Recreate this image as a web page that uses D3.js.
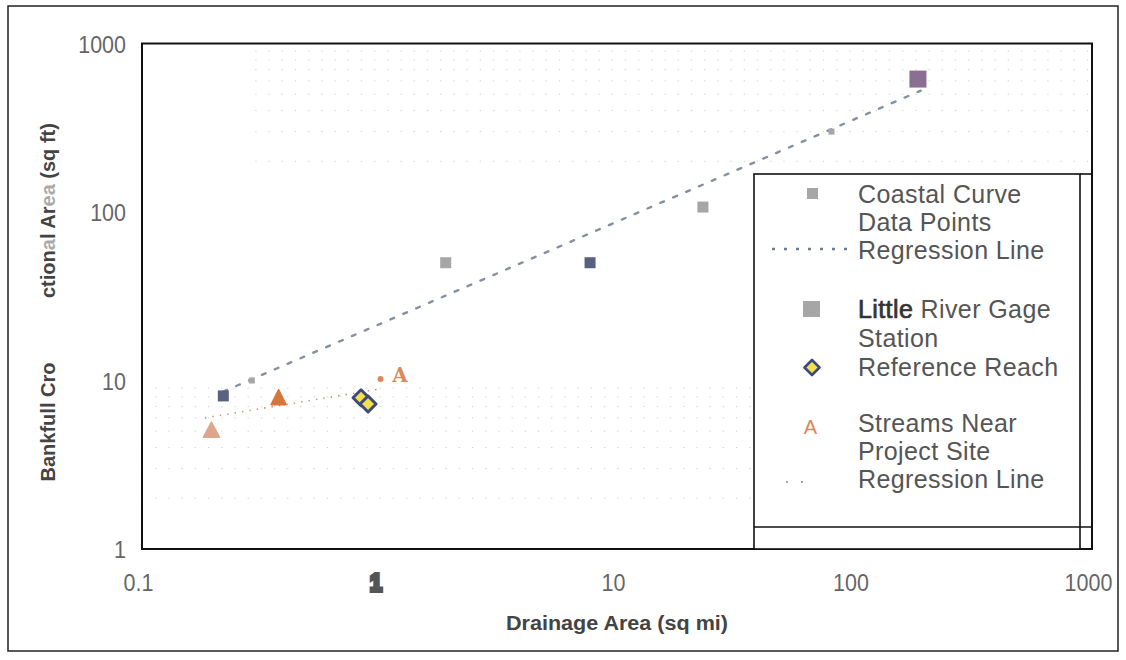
<!DOCTYPE html>
<html>
<head>
<meta charset="utf-8">
<script src="https://cdn.jsdelivr.net/npm/d3@7"></script>
<style>
  html, body { margin: 0; padding: 0; background: #fff; }
  svg { display: block; font-family: "Liberation Sans", Arial, sans-serif; }
</style>
</head>
<body>
<svg id="chart" width="1126" height="660"></svg>
<script>
// ---------------- DATA ----------------
const xTickValues = [0.1, 1, 10, 100, 1000];
const xTickLabels = ["0.1", "1", "10", "100", "1000"];
const yTickValues = [1, 10, 100, 1000];
const yTickLabels = ["1", "10", "100", "1000"];

// Coastal curve data points (grey squares)
const coastalPoints = [
  { x: 1.9, y: 50 },
  { x: 23, y: 107 }
];
const coastalSmallPoints = [
  { x: 0.29, y: 10 },
  { x: 80, y: 300 }
];
// Coastal points printed in dark blue
const coastalBluePoints = [
  { x: 0.22, y: 8.1 },
  { x: 7.7, y: 50 }
];
// Coastal curve regression line (end points)
const coastalRegression = [
  { x: 0.22, y: 8.6 },
  { x: 190, y: 525 }
];
// Little River gage station
const gagePoints = [{ x: 185, y: 615 }];
// Reference reach
const referencePoints = [
  { x: 0.836, y: 7.9 },
  { x: 0.895, y: 7.25 }
];
// Streams near project site
const streamsLightTriangles = [{ x: 0.196, y: 5.0 }];
const streamsTriangles = [{ x: 0.376, y: 7.8 }];
const streamsLetters = [{ x: 1.22, y: 10.9 }];
const streamsDots = [{ x: 1.01, y: 10.2 }];
// Project site regression line (end points)
const projectRegression = [
  { x: 0.184, y: 6.0 },
  { x: 1.0, y: 8.9 }
];
// faint minor grid rows
const minorGridLow = [2, 3, 4, 5, 6, 7, 8, 9];
const minorGridHigh = [200, 300, 400, 500, 600, 700, 800, 900];

const legendRows = [
  { lines: ["Coastal Curve", "Data Points", "Regression Line"] },
  { lines: ["Little River Gage", "Station", "Reference Reach"] },
  { lines: ["Streams Near", "Project Site", "Regression Line"] }
];

// ---------------- LAYOUT ----------------
const plot = { left: 142, top: 43.5, right: 1092, bottom: 549 };

const svg = d3.select("#chart");

const x = d3.scaleLog().domain([0.1, 1000]).range([plot.left, plot.right]);
const y = d3.scaleLog().domain([1, 1000]).range([plot.bottom, plot.top]);

// outer frame
svg.append("rect")
  .attr("x", 8).attr("y", 6).attr("width", 1110).attr("height", 645)
  .attr("fill", "#fff").attr("stroke", "#222").attr("stroke-width", 1.5);

// faint dotted minor grid
const gridG = svg.append("g");
gridG.selectAll("line.low").data(minorGridLow).join("line")
  .attr("class", "low")
  .attr("x1", x(0.1)).attr("x2", x(1000))
  .attr("y1", d => y(d)).attr("y2", d => y(d))
  .attr("stroke", "#cfcfcf").attr("stroke-width", 1)
  .attr("stroke-dasharray", "1.2,12");
gridG.selectAll("line.high").data(minorGridHigh).join("line")
  .attr("class", "high")
  .attr("x1", x(0.3)).attr("x2", x(1000))
  .attr("y1", d => y(d)).attr("y2", d => y(d))
  .attr("stroke", "#cfcfcf").attr("stroke-width", 1)
  .attr("stroke-dasharray", "1.2,12");

// axes (labels only)
const xAxis = svg.append("g")
  .attr("transform", `translate(0,${plot.bottom})`)
  .call(d3.axisBottom(x).tickValues(xTickValues).tickSize(0)
    .tickFormat((d, i) => xTickLabels[i]));
xAxis.select(".domain").remove();
xAxis.selectAll("text")
  .attr("x", -4).attr("y", 42 / 1.15).attr("dy", null)
  .attr("transform", "scale(1,1.15)")
  .attr("font-family", "'Liberation Sans', Arial, sans-serif")
  .attr("font-size", 21.5).attr("fill", "#666")
  .filter((d) => d === 1)
  .attr("font-weight", "900").attr("fill", "#555")
  .attr("stroke", "#555").attr("stroke-width", 3.5);

const yAxis = svg.append("g")
  .attr("transform", `translate(${plot.left},0)`)
  .call(d3.axisLeft(y).tickValues(yTickValues).tickSize(0)
    .tickFormat((d, i) => yTickLabels[i]));
yAxis.select(".domain").remove();
yAxis.selectAll("text")
  .attr("x", -16).attr("y", 7.7).attr("dy", null)
  .attr("transform", "scale(1,1.15)")
  .attr("font-family", "'Liberation Sans', Arial, sans-serif")
  .attr("font-size", 21.5).attr("fill", "#666");

// axis titles
svg.append("text")
  .attr("x", (plot.left + plot.right) / 2).attr("y", 630)
  .attr("text-anchor", "middle")
  .attr("font-size", 20).attr("font-weight", "bold").attr("fill", "#444")
  .attr("textLength", 222).attr("lengthAdjust", "spacingAndGlyphs")
  .text("Drainage Area (sq mi)");

svg.append("text")
  .attr("transform", "translate(55,422) rotate(-90)")
  .attr("text-anchor", "middle")
  .attr("font-size", 20).attr("font-weight", "bold").attr("fill", "#444")
  .text("Bankfull Cro");

const yt2 = svg.append("text")
  .attr("transform", "translate(55,298) rotate(-90)")
  .attr("text-anchor", "start")
  .attr("font-size", 20).attr("font-weight", "bold").attr("fill", "#444");
[["ction", "#444"], ["a", "#aaa"], ["l Ar", "#444"], ["ea", "#aaa"], [" (sq ft)", "#444"]]
  .forEach(([t, c]) => yt2.append("tspan").attr("fill", c).text(t));

// regression lines
const line = d3.line().x(d => x(d.x)).y(d => y(d.y));
svg.append("path").datum(coastalRegression)
  .attr("d", line).attr("fill", "none")
  .attr("stroke", "#868fa2").attr("stroke-width", 2.4)
  .attr("stroke-dasharray", "4,10").attr("stroke-linecap", "round");
svg.append("path").datum(projectRegression)
  .attr("d", line).attr("fill", "none")
  .attr("stroke", "#c09a85").attr("stroke-width", 1.6)
  .attr("stroke-dasharray", "1.5,6");

// squares
function squares(data, size, color) {
  svg.append("g").selectAll("rect").data(data).join("rect")
    .attr("x", d => x(d.x) - size / 2).attr("y", d => y(d.y) - size / 2)
    .attr("width", size).attr("height", size).attr("fill", color);
}
squares(coastalPoints, 11, "#a6a6a6");
squares(coastalSmallPoints, 6, "#a6a6a6");
squares(coastalBluePoints, 11, "#56627f");
squares(gagePoints, 17, "#8a6f92");

// triangles
function triangles(data, w, h, color) {
  svg.append("g").selectAll("path").data(data).join("path")
    .attr("d", d => {
      const cx = x(d.x), cy = y(d.y);
      return `M${cx},${cy - h * 0.6}L${cx + w / 2},${cy + h * 0.4}L${cx - w / 2},${cy + h * 0.4}Z`;
    })
    .attr("fill", color).attr("stroke", color).attr("stroke-width", 1.5)
    .attr("stroke-linejoin", "round");
}
triangles(streamsLightTriangles, 16, 15, "#dca68b");
triangles(streamsTriangles, 15, 15, "#d5763c");

// reference reach diamonds
svg.append("g").selectAll("path").data(referencePoints).join("path")
  .attr("d", d => {
    const cx = x(d.x), cy = y(d.y), r = 8;
    return `M${cx},${cy - r}L${cx + r},${cy}L${cx},${cy + r}L${cx - r},${cy}Z`;
  })
  .attr("fill", "#f2e04c").attr("stroke", "#3d4a7a").attr("stroke-width", 3)
  .attr("stroke-linejoin", "round");

// streams letter marker and dot
svg.append("g").selectAll("text").data(streamsLetters).join("text")
  .attr("x", d => x(d.x)).attr("y", d => y(d.y) + 7.5)
  .attr("text-anchor", "middle")
  .attr("font-family", "'DejaVu Serif', serif").attr("font-weight", "bold")
  .attr("font-size", 20).attr("fill", "#d98a5c")
  .text("A");
svg.append("g").selectAll("circle").data(streamsDots).join("circle")
  .attr("cx", d => x(d.x)).attr("cy", d => y(d.y)).attr("r", 3)
  .attr("fill", "#d98a5c");

// plot frame
svg.append("rect")
  .attr("x", plot.left).attr("y", plot.top)
  .attr("width", plot.right - plot.left).attr("height", plot.bottom - plot.top)
  .attr("fill", "none").attr("stroke", "#111").attr("stroke-width", 2);

// ---------------- LEGEND ----------------
const lg = svg.append("g");
lg.append("rect")
  .attr("x", 754).attr("y", 174).attr("width", 326).attr("height", plot.bottom - 174)
  .attr("fill", "#fff").attr("stroke", "#111").attr("stroke-width", 1.6);
lg.append("line").attr("x1", 754).attr("x2", plot.right).attr("y1", 527).attr("y2", 527)
  .attr("stroke", "#111").attr("stroke-width", 1.6);
lg.append("line").attr("x1", 1080).attr("x2", plot.right).attr("y1", 174).attr("y2", 174)
  .attr("stroke", "#111").attr("stroke-width", 1.6);

const textX = 858;
const baselines = [[203, 231, 259], [318, 347, 376], [432, 460, 488]];
legendRows.forEach((row, ri) => {
  row.lines.forEach((t, li) => {
    const tx = lg.append("text")
      .attr("x", textX).attr("y", baselines[ri][li])
      .attr("font-size", 25).attr("letter-spacing", 0.4).attr("fill", "#555");
    if (t.startsWith("Little")) {
      tx.append("tspan").attr("fill", "#333").attr("stroke", "#333")
        .attr("stroke-width", 0.7).text("Little");
      tx.append("tspan").text(t.slice(6));
    } else {
      tx.text(t);
    }
  });
});

// legend symbols
lg.append("rect").attr("x", 807).attr("y", 188).attr("width", 11).attr("height", 11)
  .attr("fill", "#a6a6a6");
lg.append("line").attr("x1", 772).attr("x2", 854).attr("y1", 249).attr("y2", 249)
  .attr("stroke", "#6f7a93").attr("stroke-width", 2.6)
  .attr("stroke-dasharray", "3,9");
lg.append("rect").attr("x", 803).attr("y", 301).attr("width", 17).attr("height", 16)
  .attr("fill", "#a6a6a6");
lg.append("path")
  .attr("d", "M812,360L819.5,367.5L812,375L804.5,367.5Z")
  .attr("fill", "#f2e04c").attr("stroke", "#3d4a7a").attr("stroke-width", 2.6)
  .attr("stroke-linejoin", "round");
lg.append("text").attr("x", 810.5).attr("y", 434).attr("text-anchor", "middle")
  .attr("font-size", 20).attr("fill", "#d8875a").text("A");
lg.append("line").attr("x1", 786).attr("x2", 804).attr("y1", 482).attr("y2", 482)
  .attr("stroke", "#888").attr("stroke-width", 1.5)
  .attr("stroke-dasharray", "2,13");
</script>
</body>
</html>
